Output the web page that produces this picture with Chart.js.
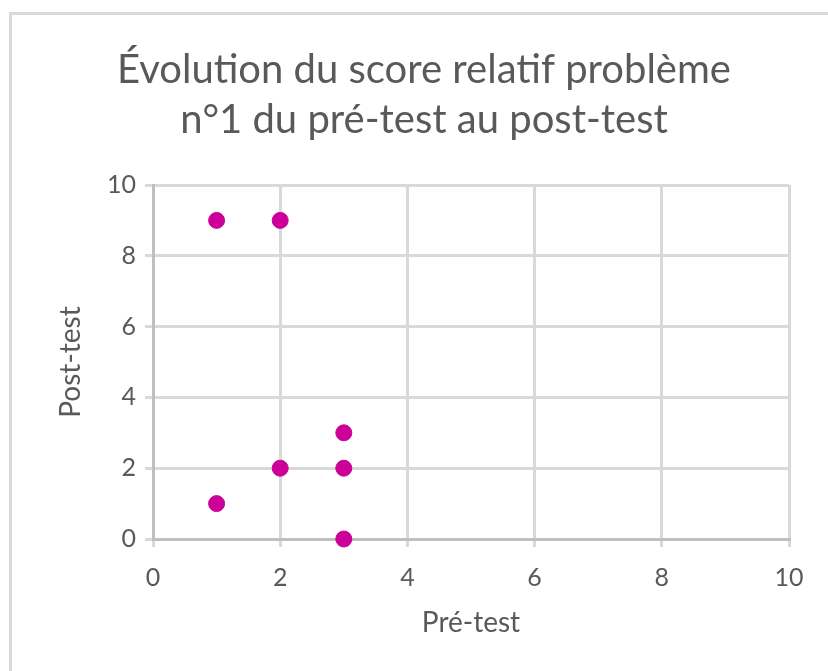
<!DOCTYPE html>
<html lang="fr">
<head>
<meta charset="utf-8">
<title>Évolution du score relatif problème n°1</title>
<script src="https://cdn.jsdelivr.net/npm/chart.js@4/dist/chart.umd.min.js"></script>
<style>
    html, body { margin: 0; padding: 0; background: #fff; overflow: hidden; }
    #frame {
        position: absolute;
        left: 9px;
        top: 12px;
        width: 840px;
        height: 700px;
        border: 3px solid #d9d9d9;
        box-sizing: border-box;
    }
    #wrap { position: absolute; left: 0; top: 0; width: 848px; height: 671px; }
</style>
</head>
<body>
<div id="frame"></div>
<div id="wrap"><canvas id="scatter-chart"></canvas></div>
<script>
// Scores of each student: pre-test (x) and post-test (y)
const preTest = [1, 2, 1, 2, 3, 3, 3];
const postTest = [9, 9, 1, 2, 3, 2, 0];
const axisTicks = [0, 2, 4, 6, 8, 10];

const titleLines = ['Évolution du score relatif problème', 'n°1 du pré-test au post-test'];
const textColor = '#595959';
const fontFamily = 'Lato, "Open Sans", sans-serif';

document.addEventListener('DOMContentLoaded', () => {
    const ctx = document.getElementById('scatter-chart').getContext('2d');

    const points = preTest.map((x, i) => ({ x: x, y: postTest[i] }));

    new Chart(ctx, {
        type: 'scatter',
        data: {
            datasets: [{
                label: 'Score',
                data: points,
                backgroundColor: '#cc0099',
                borderColor: '#cc0099',
                pointRadius: 8,
                pointHoverRadius: 8,
                clip: false
            }]
        },
        options: {
            responsive: true,
            maintainAspectRatio: false,
            animation: false,
            layout: {
                padding: { left: 0, right: 0, top: 0, bottom: 0 }
            },
            plugins: {
                legend: { display: false },
                tooltip: { enabled: false },
                title: {
                    display: true,
                    text: titleLines,
                    color: textColor,
                    font: { family: fontFamily, size: 40, weight: 'normal', lineHeight: 1.25 },
                    padding: { top: 45, bottom: 40 }
                }
            },
            scales: {
                x: {
                    type: 'linear',
                    min: 0,
                    max: 10,
                    afterFit: (scale) => { scale.height = 132; },
                    afterBuildTicks: (scale) => { scale.ticks = axisTicks.map(v => ({ value: v })); },
                    grid: { color: '#d9d9d9', lineWidth: 3, tickLength: 8 },
                    border: { color: '#bfbfbf', width: 3 },
                    ticks: {
                        color: textColor,
                        padding: 16,
                        font: { family: fontFamily, size: 25 }
                    },
                    title: {
                        display: true,
                        text: 'Pré-test',
                        color: textColor,
                        font: { family: fontFamily, size: 28 },
                        padding: { top: 0, bottom: 31 }
                    }
                },
                y: {
                    type: 'linear',
                    min: 0,
                    max: 10,
                    afterFit: (scale) => { scale.width = 153; },
                    afterBuildTicks: (scale) => { scale.ticks = axisTicks.map(v => ({ value: v })); },
                    grid: { color: '#d9d9d9', lineWidth: 3, tickLength: 8 },
                    border: { color: '#bfbfbf', width: 3 },
                    ticks: {
                        color: textColor,
                        padding: 9,
                        font: { family: fontFamily, size: 25 }
                    },
                    title: {
                        display: true,
                        text: 'Post-test',
                        color: textColor,
                        font: { family: fontFamily, size: 28 },
                        padding: { top: 54, bottom: 0 }
                    }
                },
                // empty right-hand margin so the plot ends at the same place
                spacer: {
                    type: 'linear',
                    position: 'right',
                    afterFit: (scale) => { scale.width = 59; },
                    grid: { display: false, drawTicks: false },
                    border: { display: false },
                    ticks: { display: false }
                }
            }
        }
    });
});
</script>
</body>
</html>
